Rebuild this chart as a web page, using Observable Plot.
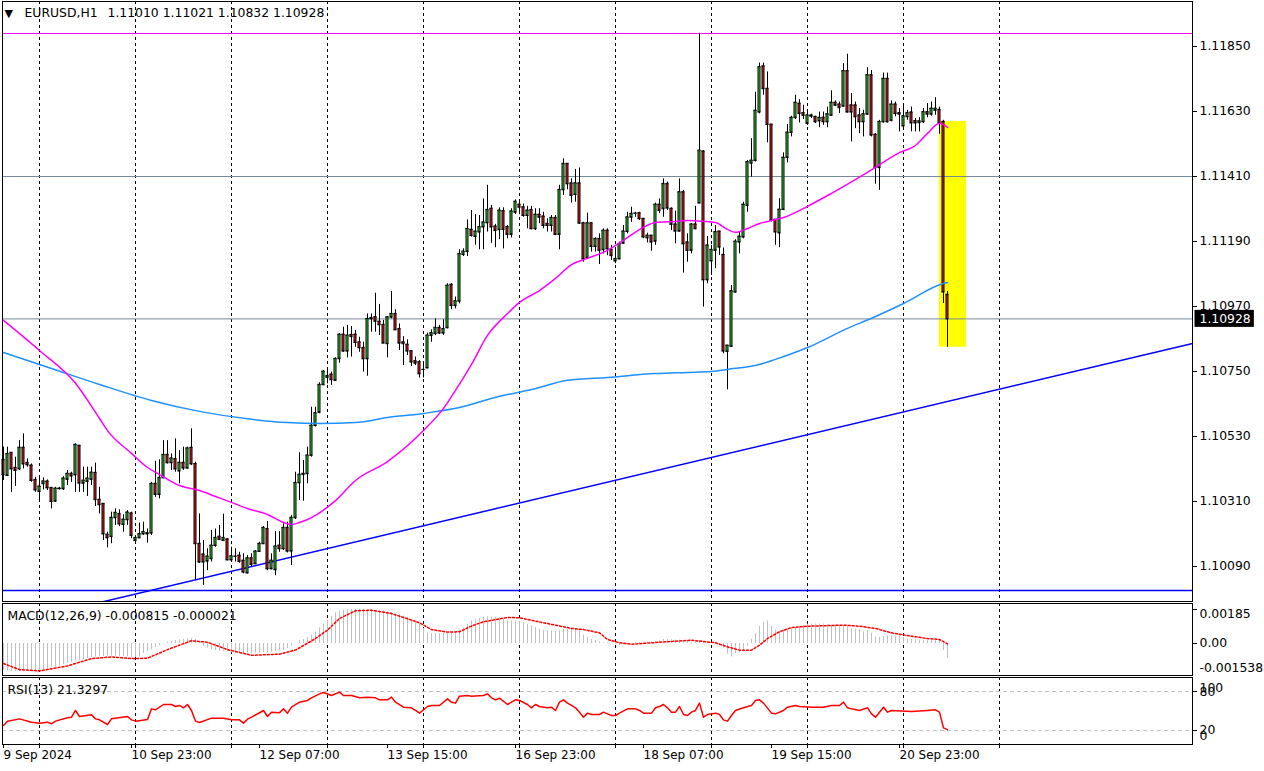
<!DOCTYPE html>
<html>
<head>
<meta charset="utf-8">
<script src="https://cdn.jsdelivr.net/npm/d3@7"></script>
<script src="https://cdn.jsdelivr.net/npm/@observablehq/plot@0.6"></script>
<style>
html,body{margin:0;padding:0;background:#fff;}
#chart{position:relative;width:1264px;height:771px;overflow:hidden;background:#fff;}
#chart svg{position:absolute;left:0;overflow:visible;}
</style>
</head>
<body>
<div id="chart"></div>
<script>
// ---------- DATA (EURUSD H1, bar index 0 = 9 Sep 2024 15:00) ----------
const open = [
1.10451,1.10398,1.10475,1.10424,1.10420,1.10492,1.10441,1.10432,1.10383,1.10344,
1.10370,1.10378,1.10356,1.10311,1.10353,1.10353,1.10385,1.10404,1.10400,1.10499,
1.10372,1.10378,1.10385,1.10407,1.10316,1.10302,1.10198,1.10191,1.10255,1.10268,
1.10232,1.10248,1.10270,1.10178,1.10187,1.10200,1.10203,1.10203,1.10370,1.10334,
1.10390,1.10468,1.10441,1.10454,1.10413,1.10441,1.10423,1.10492,1.10437,1.10167,
1.10131,1.10108,1.10116,1.10161,1.10191,1.10178,1.10182,1.10112,1.10125,1.10127,
1.10110,1.10068,1.10118,1.10099,1.10141,1.10167,1.10217,1.10082,1.10079,1.10161,
1.10150,1.10221,1.10142,1.10255,1.10373,1.10401,1.10404,1.10466,1.10567,1.10612,
1.10705,1.10730,1.10740,1.10720,1.10793,1.10875,1.10819,1.10874,1.10875,1.10849,
1.10830,1.10793,1.10928,1.10934,1.10919,1.10908,1.10844,1.10934,1.10945,1.10894,
1.10849,1.10841,1.10819,1.10785,1.10782,1.10757,1.10762,1.10872,1.10878,1.10898,
1.10880,1.10898,1.11044,1.10973,1.10988,1.11146,1.11156,1.11230,1.11207,1.11222,
1.11239,1.11253,1.11301,1.11241,1.11230,1.11293,1.11239,1.11214,1.11289,1.11315,
1.11306,1.11278,1.11297,1.11233,1.11281,1.11275,1.11250,1.11244,1.11270,1.11214,
1.11365,1.11453,1.11387,1.11349,1.11387,1.11252,1.11135,1.11252,1.11173,1.11199,
1.11162,1.11227,1.11162,1.11124,1.11131,1.11184,1.11224,1.11272,1.11286,1.11286,
1.11267,1.11202,1.11210,1.11191,1.11315,1.11301,1.11385,1.11301,1.11248,1.11225,
1.11357,1.11187,1.11160,1.11248,1.11320,1.11495,1.11060,1.11124,1.11160,1.11224,
1.11145,1.10818,1.10835,1.11019,1.11188,1.11205,1.11312,1.11455,1.11464,1.11628,
1.11783,1.11707,1.11586,1.11264,1.11219,1.11298,1.11474,1.11559,1.11609,1.11657,
1.11625,1.11590,1.11617,1.11612,1.11598,1.11609,1.11595,1.11617,1.11660,1.11654,
1.11648,1.11767,1.11651,1.11651,1.11617,1.11595,1.11621,1.11753,1.11552,1.11440,
1.11595,1.11741,1.11600,1.11654,1.11625,1.11581,1.11612,1.11627,1.11598,1.11592,
1.11595,1.11628,1.11621,1.11634,1.11636,1.11595,1.11010];
const high = [
1.10494,1.10494,1.10475,1.10460,1.10516,1.10539,1.10454,1.10437,1.10392,1.10398,
1.10390,1.10383,1.10358,1.10358,1.10358,1.10394,1.10415,1.10409,1.10505,1.10499,
1.10426,1.10426,1.10426,1.10440,1.10358,1.10302,1.10206,1.10274,1.10285,1.10282,
1.10265,1.10279,1.10274,1.10195,1.10237,1.10240,1.10217,1.10375,1.10446,1.10451,
1.10516,1.10516,1.10471,1.10522,1.10482,1.10494,1.10494,1.10556,1.10443,1.10268,
1.10178,1.10150,1.10212,1.10217,1.10229,1.10267,1.10184,1.10155,1.10150,1.10138,
1.10133,1.10127,1.10133,1.10144,1.10172,1.10225,1.10242,1.10133,1.10208,1.10208,
1.10234,1.10240,1.10263,1.10409,1.10475,1.10449,1.10494,1.10629,1.10629,1.10712,
1.10753,1.10753,1.10748,1.10796,1.10878,1.10900,1.10906,1.10902,1.10889,1.10866,
1.10849,1.10945,1.10945,1.11015,1.10977,1.10923,1.10934,1.11021,1.10959,1.10911,
1.10868,1.10857,1.10819,1.10799,1.10787,1.10776,1.10880,1.10891,1.10928,1.10906,
1.10925,1.11047,1.11047,1.11002,1.11162,1.11165,1.11263,1.11295,1.11281,1.11278,
1.11334,1.11380,1.11312,1.11248,1.11304,1.11304,1.11244,1.11301,1.11331,1.11323,
1.11317,1.11309,1.11309,1.11301,1.11301,1.11289,1.11267,1.11278,1.11278,1.11380,
1.11470,1.11453,1.11402,1.11434,1.11439,1.11255,1.11286,1.11252,1.11202,1.11216,
1.11233,1.11233,1.11177,1.11165,1.11188,1.11244,1.11289,1.11306,1.11289,1.11289,
1.11267,1.11218,1.11210,1.11320,1.11334,1.11402,1.11391,1.11304,1.11293,1.11402,
1.11363,1.11216,1.11250,1.11309,1.11895,1.11498,1.11207,1.11177,1.11244,1.11224,
1.11168,1.10838,1.11041,1.11196,1.11222,1.11323,1.11464,1.11538,1.11695,1.11794,
1.11794,1.11764,1.11586,1.11264,1.11335,1.11490,1.11586,1.11614,1.11685,1.11670,
1.11651,1.11634,1.11621,1.11614,1.11628,1.11628,1.11645,1.11700,1.11666,1.11662,
1.11792,1.11824,1.11691,1.11662,1.11640,1.11634,1.11778,1.11769,1.11555,1.11600,
1.11760,1.11760,1.11666,1.11662,1.11640,1.11657,1.11634,1.11645,1.11606,1.11609,
1.11640,1.11657,1.11662,1.11677,1.11645,1.11600,1.11021];
const low = [
1.10381,1.10396,1.10341,1.10361,1.10415,1.10420,1.10426,1.10375,1.10341,1.10308,
1.10349,1.10347,1.10285,1.10308,1.10349,1.10347,1.10364,1.10375,1.10341,1.10341,
1.10341,1.10327,1.10364,1.10293,1.10268,1.10178,1.10153,1.10167,1.10229,1.10225,
1.10206,1.10229,1.10184,1.10172,1.10184,1.10195,1.10169,1.10195,1.10324,1.10319,
1.10387,1.10437,1.10415,1.10409,1.10370,1.10415,1.10420,1.10432,1.10045,1.10100,
1.10026,1.10076,1.10105,1.10155,1.10178,1.10175,1.10110,1.10110,1.10105,1.10101,
1.10065,1.10065,1.10088,1.10097,1.10138,1.10164,1.10076,1.10079,1.10059,1.10138,
1.10144,1.10136,1.10093,1.10249,1.10313,1.10311,1.10370,1.10460,1.10562,1.10607,
1.10703,1.10708,1.10703,1.10717,1.10778,1.10815,1.10796,1.10799,1.10832,1.10815,
1.10748,1.10734,1.10883,1.10883,1.10872,1.10844,1.10796,1.10928,1.10889,1.10821,
1.10770,1.10804,1.10767,1.10770,1.10728,1.10728,1.10759,1.10849,1.10872,1.10875,
1.10872,1.10894,1.10959,1.10962,1.10979,1.11139,1.11139,1.11205,1.11177,1.11162,
1.11162,1.11222,1.11184,1.11169,1.11196,1.11165,1.11199,1.11202,1.11281,1.11281,
1.11272,1.11233,1.11230,1.11227,1.11250,1.11233,1.11222,1.11222,1.11210,1.11162,
1.11346,1.11365,1.11320,1.11323,1.11248,1.11120,1.11131,1.11154,1.11154,1.11112,
1.11148,1.11142,1.11126,1.11115,1.11128,1.11182,1.11216,1.11255,1.11272,1.11261,
1.11199,1.11185,1.11157,1.11177,1.11284,1.11272,1.11295,1.11227,1.11182,1.11222,
1.11083,1.11120,1.11148,1.11230,1.11318,1.10968,1.11047,1.11075,1.11098,1.11143,
1.10810,1.10688,1.10833,1.11015,1.11148,1.11199,1.11289,1.11408,1.11459,1.11622,
1.11685,1.11524,1.11256,1.11177,1.11169,1.11296,1.11456,1.11544,1.11603,1.11591,
1.11603,1.11583,1.11606,1.11589,1.11575,1.11583,1.11575,1.11614,1.11648,1.11623,
1.11645,1.11625,1.11527,1.11572,1.11555,1.11544,1.11617,1.11544,1.11384,1.11363,
1.11591,1.11591,1.11595,1.11612,1.11561,1.11575,1.11600,1.11561,1.11561,1.11561,
1.11589,1.11609,1.11614,1.11617,1.11553,1.10980,1.10832];
const close = [
1.10401,1.10471,1.10420,1.10415,1.10492,1.10437,1.10434,1.10381,1.10349,1.10361,
1.10378,1.10356,1.10310,1.10354,1.10354,1.10388,1.10404,1.10396,1.10502,1.10372,
1.10381,1.10388,1.10408,1.10316,1.10299,1.10200,1.10187,1.10255,1.10272,1.10234,
1.10249,1.10273,1.10195,1.10187,1.10200,1.10207,1.10200,1.10370,1.10334,1.10390,
1.10468,1.10441,1.10456,1.10420,1.10441,1.10423,1.10490,1.10437,1.10167,1.10105,
1.10105,1.10124,1.10161,1.10187,1.10181,1.10187,1.10112,1.10125,1.10125,1.10107,
1.10071,1.10118,1.10097,1.10141,1.10167,1.10221,1.10082,1.10110,1.10158,1.10150,
1.10221,1.10142,1.10255,1.10373,1.10401,1.10404,1.10466,1.10567,1.10609,1.10705,
1.10750,1.10735,1.10722,1.10793,1.10875,1.10819,1.10872,1.10868,1.10848,1.10830,
1.10793,1.10928,1.10931,1.10920,1.10908,1.10846,1.10934,1.10945,1.10891,1.10846,
1.10844,1.10819,1.10782,1.10778,1.10742,1.10757,1.10872,1.10880,1.10898,1.10880,
1.10894,1.11041,1.10973,1.10988,1.11148,1.11156,1.11233,1.11210,1.11224,1.11239,
1.11255,1.11297,1.11239,1.11227,1.11295,1.11231,1.11214,1.11292,1.11325,1.11306,
1.11278,1.11295,1.11233,1.11281,1.11272,1.11244,1.11244,1.11270,1.11214,1.11365,
1.11453,1.11385,1.11346,1.11387,1.11252,1.11131,1.11252,1.11173,1.11199,1.11160,
1.11227,1.11165,1.11142,1.11131,1.11182,1.11224,1.11272,1.11284,1.11286,1.11267,
1.11205,1.11210,1.11188,1.11315,1.11295,1.11385,1.11303,1.11248,1.11225,1.11357,
1.11182,1.11160,1.11248,1.11233,1.11498,1.11060,1.11177,1.11162,1.11222,1.11171,
1.10819,1.10838,1.11022,1.11190,1.11207,1.11315,1.11459,1.11464,1.11633,1.11780,
1.11707,1.11586,1.11262,1.11222,1.11298,1.11474,1.11559,1.11609,1.11660,1.11623,
1.11617,1.11617,1.11614,1.11595,1.11609,1.11595,1.11621,1.11660,1.11651,1.11643,
1.11767,1.11628,1.11628,1.11612,1.11595,1.11621,1.11753,1.11550,1.11440,1.11595,
1.11741,1.11595,1.11654,1.11623,1.11621,1.11614,1.11625,1.11591,1.11591,1.11597,
1.11628,1.11621,1.11640,1.11640,1.11591,1.11019,1.10928];

// moving averages [bar index, value]
const maFast = [[0,1.10923],[9,1.10821],[18,1.10710],[24,1.10591],[26,1.10550],[32,1.10473],[36,1.10425],[39,1.10401],[44,1.10364],[49,1.10347],[53,1.10327],[57,1.10307],[61,1.10286],[66,1.10266],[70,1.10239],[72,1.10232],[74,1.10239],[76,1.10249],[83,1.10313],[88,1.10381],[96,1.10445],[105,1.10550],[110,1.10625],[113,1.10686],[117,1.10774],[121,1.10872],[126,1.10946],[129,1.10984],[134,1.11024],[138,1.11065],[142,1.11112],[146,1.11133],[151,1.11160],[155,1.11194],[160,1.11238],[163,1.11254],[168,1.11258],[171,1.11261],[175,1.11258],[178,1.11254],[181,1.11231],[183,1.11221],[186,1.11234],[189,1.11251],[192,1.11261],[195,1.11271],[201,1.11309],[207,1.11353],[216,1.11424],[224,1.11491],[228,1.11515],[231,1.11556],[234,1.11590],[236,1.11576]];
const maSlow = [[0,1.10814],[12,1.10760],[24,1.10706],[37,1.10652],[49,1.10615],[62,1.10588],[71,1.10577],[79,1.10574],[88,1.10577],[96,1.10594],[105,1.10608],[114,1.10628],[124,1.10666],[132,1.10689],[141,1.10720],[151,1.10730],[163,1.10743],[171,1.10747],[177,1.10750],[181,1.10757],[189,1.10774],[193,1.10791],[201,1.10831],[211,1.10896],[217,1.10930],[225,1.10980],[235,1.11048],[236,1.11051]];

// objects drawn on the price chart
const trendLine = [[20,1.09955],[297,1.10844]];
const hLineTop = 1.11894, hLineGray = 1.11410, hLineBlue = 1.10009, bidPrice = 1.10928;
const highlight = {from:234, to:240.75, top:1.11596, bottom:1.10832};

// MACD(12,26,9) histogram (one value per bar) and signal line
const macd = [
-0.00146,-0.00149,-0.00151,-0.00152,-0.00153,-0.001538,-0.00153,-0.00152,-0.00150,-0.00147,
-0.00145,-0.00140,-0.00134,-0.00129,-0.00122,-0.00114,-0.00107,-0.00102,-0.00096,-0.00091,
-0.00087,-0.00082,-0.00076,-0.00073,-0.00071,-0.00071,-0.00069,-0.00069,-0.00069,-0.00071,
-0.00071,-0.00073,-0.00076,-0.00076,-0.00073,-0.00054,-0.00045,-0.00033,-0.00022,-0.00011,
-0.00002,0.00005,0.00011,0.00016,0.00020,0.00022,0.00025,0.00027,0.00022,0.00007,
-0.00015,-0.00025,-0.00033,-0.00038,-0.00042,-0.00044,-0.00045,-0.00051,-0.00054,-0.00054,
-0.00054,-0.00054,-0.00054,-0.00053,-0.00053,-0.00051,-0.00051,-0.00047,-0.00044,-0.00040,
-0.00036,-0.00027,-0.00015,0.00000,0.00015,0.00022,0.00033,0.00047,0.00062,0.00085,
0.00105,0.00127,0.00149,0.00167,0.00176,0.00181,0.00184,0.00185,0.00185,0.00185,
0.00184,0.00184,0.00183,0.00181,0.00178,0.00176,0.00172,0.00167,0.00161,0.00156,
0.00149,0.00142,0.00132,0.00122,0.00105,0.00082,0.00058,0.00054,0.00054,0.00054,
0.00054,0.00058,0.00062,0.00064,0.00073,0.00085,0.00105,0.00123,0.00131,0.00136,
0.00142,0.00145,0.00143,0.00142,0.00138,0.00131,0.00123,0.00123,0.00123,0.00120,
0.00114,0.00105,0.00096,0.00087,0.00076,0.00073,0.00069,0.00069,0.00065,0.00069,
0.00076,0.00076,0.00076,0.00076,0.00069,0.00045,0.00034,0.00022,0.00016,0.00009,
0.00004,0.00004,0.00000,-0.00005,-0.00011,-0.00007,-0.00004,0.00000,0.00004,0.00005,
0.00007,0.00007,0.00009,0.00011,0.00015,0.00022,0.00022,0.00020,0.00018,0.00018,
0.00016,0.00013,0.00005,0.00007,0.00015,0.00011,0.00007,0.00004,-0.00002,-0.00013,
-0.00027,-0.00058,-0.00073,-0.00054,-0.00051,-0.00040,-0.00015,0.00024,0.00054,0.00094,
0.00118,0.00123,0.00094,0.00073,0.00069,0.00074,0.00080,0.00083,0.00087,0.00091,
0.00098,0.00105,0.00105,0.00105,0.00105,0.00105,0.00103,0.00100,0.00100,0.00100,
0.00096,0.00091,0.00082,0.00078,0.00074,0.00063,0.00069,0.00056,0.00036,0.00033,
0.00038,0.00040,0.00040,0.00040,0.00040,0.00033,0.00024,0.00022,0.00022,0.00018,
0.00018,0.00018,0.00018,0.00018,0.00018,-0.00038,-0.000815];
const macdSignal = [[0,-0.00109],[4,-0.00142],[9,-0.00149],[16,-0.00122],[22,-0.00082],[27,-0.00073],[32,-0.00082],[36,-0.00080],[41,-0.00033],[47,0.00015],[51,0.00007],[56,-0.00033],[62,-0.00064],[69,-0.00058],[73,-0.00036],[78,0.00027],[81,0.00073],[84,0.00136],[88,0.00178],[92,0.00181],[97,0.00163],[104,0.00113],[107,0.00076],[111,0.00062],[114,0.00064],[117,0.00095],[120,0.00118],[126,0.00142],[129,0.00140],[135,0.00113],[142,0.00082],[145,0.00076],[149,0.00058],[151,0.00022],[154,0.00004],[157,-0.00004],[164,0.00007],[172,0.00018],[178,0.00004],[181,-0.00018],[184,-0.00036],[187,-0.00036],[189,-0.00009],[191,0.00027],[194,0.00064],[197,0.00087],[201,0.00094],[210,0.00100],[214,0.00094],[218,0.00082],[222,0.00058],[227,0.00040],[231,0.00027],[234,0.00022],[236,-0.000021]];

// RSI(13) [bar index, value]
const rsi = [[0,27.7],[1,34.4],[4,37.9],[7,32.8],[9,31.3],[11,32.8],[12,30.3],[13,34.4],[16,39.5],[17,40.5],[18,50.8],[19,41.5],[22,44.1],[23,37.9],[24,36.4],[26,29.2],[27,37.9],[31,41.5],[32,36.4],[33,34.4],[36,36.9],[37,53.3],[38,51.8],[40,60.0],[42,60.0],[43,56.9],[44,58.5],[45,54.9],[46,60.0],[47,50.8],[48,34.4],[49,32.3],[52,39.0],[55,39.0],[57,36.4],[59,36.4],[60,31.3],[61,37.4],[62,40.5],[65,50.8],[66,41.5],[67,48.2],[69,47.2],[70,53.3],[71,46.7],[72,55.9],[74,63.6],[76,66.2],[77,70.3],[79,76.4],[80,78.5],[82,73.8],[84,79.0],[85,73.8],[87,73.8],[89,70.3],[91,71.3],[93,70.3],[94,67.2],[96,67.2],[97,71.3],[98,63.6],[100,55.9],[102,54.9],[103,50.8],[104,46.7],[106,56.9],[107,58.5],[109,58.5],[111,68.7],[112,63.6],[113,62.1],[114,72.8],[116,73.8],[117,72.8],[120,73.8],[121,76.4],[122,70.3],[123,67.2],[124,69.7],[126,60.0],[127,63.6],[128,67.2],[129,66.2],[131,60.0],[132,54.9],[133,60.0],[134,56.9],[136,54.9],[137,55.9],[138,50.8],[139,63.6],[140,67.2],[141,62.1],[142,58.5],[143,54.9],[144,48.2],[145,40.5],[146,46.7],[147,44.6],[149,44.6],[150,48.2],[151,45.6],[152,43.1],[153,43.1],[154,46.7],[156,53.3],[158,53.3],[159,50.8],[160,46.7],[162,46.7],[163,54.9],[164,56.9],[165,60.0],[166,54.9],[167,48.2],[168,48.2],[169,56.9],[170,44.6],[171,43.1],[172,48.2],[173,50.8],[174,62.1],[175,40.5],[176,44.6],[178,46.7],[179,44.6],[180,36.4],[181,34.4],[182,43.1],[183,50.8],[185,54.9],[187,58.5],[188,66.2],[189,67.2],[190,62.1],[192,46.7],[193,45.6],[195,50.8],[196,55.9],[198,58.5],[199,56.9],[202,55.9],[205,55.9],[207,58.5],[209,58.5],[210,63.6],[211,54.9],[212,53.3],[214,50.8],[216,54.9],[217,45.6],[218,40.5],[219,48.2],[220,55.9],[221,48.2],[222,50.8],[227,49.2],[231,50.8],[233,51.8],[234,48.2],[235,24.0],[236,21.33]];
const rsiLevels = [80, 20];

// axes
const priceTicks = [1.10090,1.10310,1.10530,1.10750,1.10970,1.11190,1.11410,1.11630,1.11850];
const timeTickIdx = [0,32,64,96,128,160,192,224];
const timeTickLabels = ["9 Sep 2024","10 Sep 23:00","12 Sep 07:00","13 Sep 15:00","16 Sep 23:00","18 Sep 07:00","19 Sep 15:00","20 Sep 23:00"];
const dayGridIdx = [9,33,57,81,105,129,153,177,201,225,249];
const headerSymbol = "EURUSD,H1";
const headerOHLC = "1.11010 1.11021 1.10832 1.10928";
const macdTitle = "MACD(12,26,9) -0.000815 -0.000021";
const rsiTitle = "RSI(13) 21.3297";
const macdAxis = [[0.00185,"0.00185"],[0,"0.00"],[-0.001538,"-0.001538"]];
const rsiAxis = [[100,"100"],[80,"80"],[20,"20"],[0,"0"]];

// ---------- CHART ----------
const FONT = "'DejaVu Sans', sans-serif";
const UP = "#2fd62f", DOWN = "#ec1c1c";
const bars = open.map((o, i) => ({i, o, h: high[i], l: low[i], c: close[i]}));
const X = {domain: [0, 297], range: [3, 1191], label: null};
const baseStyle = {fontFamily: FONT, fontSize: "12.4px", background: "transparent", color: "black", overflow: "visible"};
const grid = () => Plot.ruleX(dayGridIdx, {stroke: "black", strokeDasharray: "3,3"});
const W = 1264, ML = 2, MR = 72;

const mainPlot = Plot.plot({
  width: W, height: 602, marginLeft: ML, marginRight: MR, marginTop: 1, marginBottom: 1,
  style: baseStyle,
  x: {...X, axis: null},
  y: {domain: [1.099715, 1.120023], range: [601, 1], label: null},
  marks: [
    Plot.rect([highlight], {x1: "from", x2: "to", y1: "bottom", y2: "top", fill: "#ffff00"}),
    grid(),
    Plot.ruleY([hLineTop], {stroke: "#ff00ff"}),
    Plot.ruleY([hLineGray, bidPrice], {stroke: "#778899"}),
    Plot.ruleY([hLineBlue], {stroke: "#0000ff", strokeWidth: 1.5}),
    Plot.line(trendLine, {x: d => d[0], y: d => d[1], stroke: "#0000ff", clip: true}),
    Plot.ruleX(bars, {x: "i", y1: "l", y2: "h", stroke: "black"}),
    Plot.ruleY(bars, {y: "o", x1: d => d.i - 0.375, x2: d => d.i + 0.375, stroke: "black"}),
    Plot.ruleY(bars, {y: "c", x1: d => d.i - 0.375, x2: d => d.i + 0.375, stroke: "black"}),
    Plot.rect(bars, {x1: d => d.i - 0.25, x2: d => d.i + 0.25, y1: "o", y2: "c",
      fill: d => d.c >= d.o ? UP : DOWN, stroke: "black", strokeWidth: 1}),
    Plot.line(maSlow, {x: d => d[0], y: d => d[1], stroke: "#1e90ff", curve: "monotone-x"}),
    Plot.line(maFast, {x: d => d[0], y: d => d[1], stroke: "#ff00ff", curve: "monotone-x"}),
    Plot.frame({stroke: "black"}),
    Plot.axisY(priceTicks, {anchor: "right", tickSize: 4, tickPadding: 3, tickFormat: d => d.toFixed(5), label: null}),
    Plot.text([bidPrice], {y: d => d, text: d => d.toFixed(5), frameAnchor: "right", dx: 7, textAnchor: "start", fill: "white"}),
    Plot.text(["\u25BC"], {text: d => d, frameAnchor: "top-left", dx: 2, dy: 12, lineAnchor: "middle", fontSize: 11}),
    Plot.text([headerSymbol], {text: d => d, frameAnchor: "top-left", dx: 22, dy: 12, lineAnchor: "middle"}),
    Plot.text([headerOHLC], {text: d => d, frameAnchor: "top-left", dx: 105, dy: 12, lineAnchor: "middle"})
  ]
});

const macdData = macd.map((v, i) => ({i, v}));
const macdPlot = Plot.plot({
  width: W, height: 74, marginLeft: ML, marginRight: MR, marginTop: 1, marginBottom: 1,
  style: baseStyle,
  x: {...X, axis: null},
  y: {domain: [-0.001538, 0.00185], range: [69.3, 7], label: null},
  marks: [
    grid(),
    Plot.ruleX(macdData, {x: "i", y1: 0, y2: "v", stroke: "#c0c0c0"}),
    Plot.line(macdSignal, {x: d => d[0], y: d => d[1], stroke: "#ff0000", strokeDasharray: "2,2"}),
    Plot.frame({stroke: "black"}),
    Plot.axisY([0.00185, 0], {anchor: "right", tickSize: 4, tickFormat: () => "", label: null}),
    Plot.text([macdAxis[0]], {y: d => d[0], text: d => d[1], frameAnchor: "right", dx: 7, dy: 5, textAnchor: "start"}),
    Plot.text([macdAxis[1]], {y: d => d[0], text: d => d[1], frameAnchor: "right", dx: 7, textAnchor: "start"}),
    Plot.text([macdAxis[2]], {y: d => d[0], text: d => d[1], frameAnchor: "right", dx: 7, dy: -4, textAnchor: "start"}),
    Plot.text([macdTitle], {text: d => d, frameAnchor: "top-left", dx: 5, dy: 13, lineAnchor: "middle"})
  ]
});

const timeLabelMap = new Map(timeTickIdx.map((d, k) => [d, timeTickLabels[k]]));
const rsiPlot = Plot.plot({
  width: W, height: 95, marginLeft: ML, marginRight: MR, marginTop: 1, marginBottom: 27,
  style: baseStyle,
  x: X,
  y: {domain: [0, 100], range: [67, 2], label: null},
  marks: [
    grid(),
    Plot.ruleY(rsiLevels, {stroke: "#c0c0c0", strokeDasharray: "4,3"}),
    Plot.line(rsi, {x: d => d[0], y: d => d[1], stroke: "#ff0000"}),
    Plot.frame({stroke: "black"}),
    Plot.axisY(rsiLevels, {anchor: "right", tickSize: 4, tickFormat: () => "", label: null}),
    Plot.text([rsiAxis[0]], {y: d => d[0], text: d => d[1], frameAnchor: "right", dx: 7, dy: 10, textAnchor: "start"}),
    Plot.text([rsiAxis[1]], {y: d => d[0], text: d => d[1], frameAnchor: "right", dx: 7, dy: 1, textAnchor: "start"}),
    Plot.text([rsiAxis[2]], {y: d => d[0], text: d => d[1], frameAnchor: "right", dx: 7, textAnchor: "start"}),
    Plot.text([rsiAxis[3]], {y: d => d[0], text: d => d[1], frameAnchor: "right", dx: 7, dy: -7, textAnchor: "start"}),
    Plot.text([rsiTitle], {text: d => d, frameAnchor: "top-left", dx: 5, dy: 13, lineAnchor: "middle"}),
    Plot.axisX(dayGridIdx, {anchor: "bottom", tickSize: 4, tickFormat: () => "", label: null}),
    Plot.axisX(timeTickIdx, {anchor: "bottom", tickSize: 4, tickPadding: 2, textAnchor: "start", fontSize: 12,
      tickFormat: d => timeLabelMap.get(d), label: null})
  ]
});

const host = document.getElementById("chart");
[[mainPlot, 0], [macdPlot, 602], [rsiPlot, 676]].forEach(([svg, top]) => {
  svg.style.top = top + "px";
  host.appendChild(svg);
});

// black box behind the current bid price label
d3.select(mainPlot).selectAll("g[aria-label='text']").each(function () {
  if (this.getAttribute("fill") !== "white") return;
  this.querySelectorAll("text").forEach(t => {
    const bb = t.getBBox();
    const r = document.createElementNS("http://www.w3.org/2000/svg", "rect");
    r.setAttribute("x", bb.x - 5);
    r.setAttribute("y", bb.y - 1);
    r.setAttribute("width", bb.width + 8);
    r.setAttribute("height", bb.height + 2);
    r.setAttribute("fill", "black");
    const tr = t.getAttribute("transform");
    if (tr) r.setAttribute("transform", tr);
    this.insertBefore(r, t);
  });
});
</script>
</body>
</html>
